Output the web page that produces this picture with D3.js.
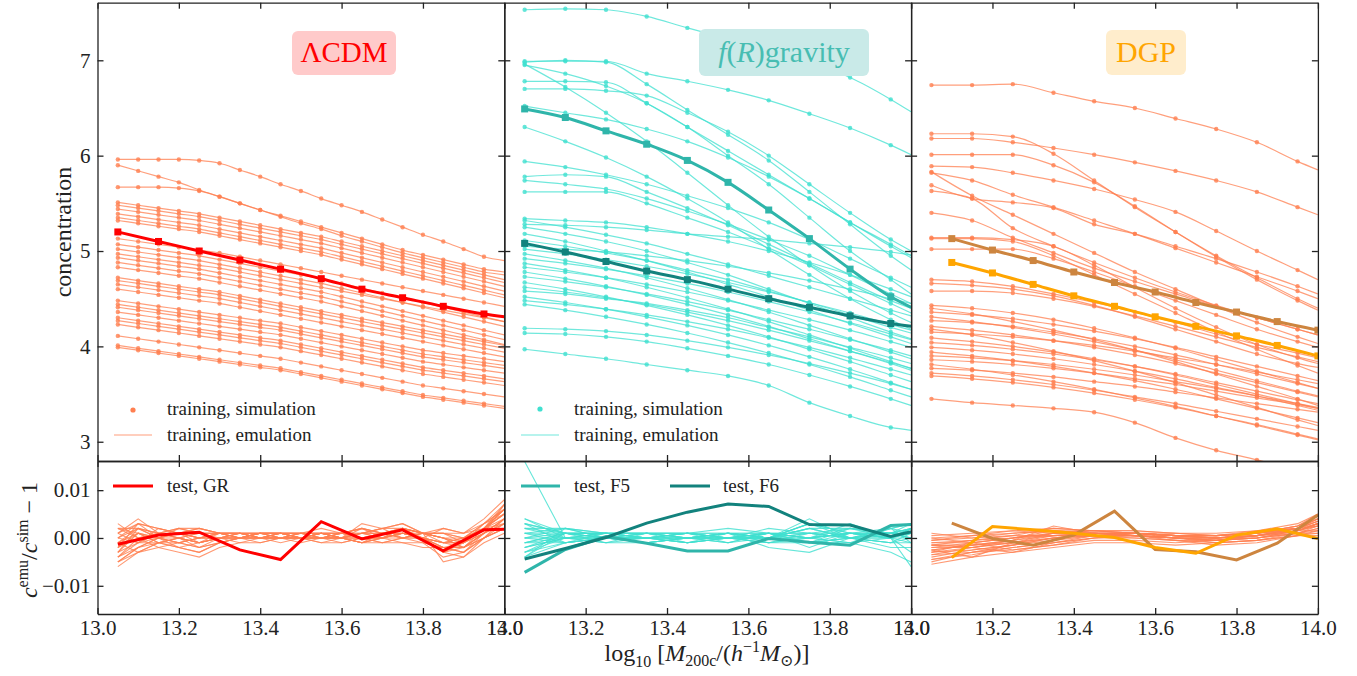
<!DOCTYPE html>
<html>
<head>
<meta charset="utf-8">
<script src="https://cdn.jsdelivr.net/npm/d3@7"></script>
<style>
body { margin: 0; background: #fff; }
svg text { font-family: "Liberation Serif", "Times New Roman", "DejaVu Serif", serif; fill: #222; }
</style>
</head>
<body>
<svg id="fig" width="1357" height="676"></svg>
<script>
// mass grids (log10 M200c)
var xLcdm = [13.05,13.10,13.15,13.20,13.25,13.30,13.35,13.40,13.45,13.50,13.55,13.60,13.65,13.70,13.75,13.80,13.85,13.90,13.95,14.00];
var xGrid = [13.05,13.15,13.25,13.35,13.45,13.55,13.65,13.75,13.85,13.95,14.00];
var xDgpTest = [13.1,13.2,13.3,13.4,13.5,13.6,13.7,13.8,13.9,14.0];
var xTicks = [13.0,13.2,13.4,13.6,13.8,14.0];
var yTicksTop = [3,4,5,6,7];
var yTicksBot = [-0.01,0,0.01];

// LCDM training curves (19 simulation points + emulated end at 14.0)
var lcdmTrain = [
  [5.96,5.96,5.96,5.96,5.95,5.92,5.85,5.78,5.70,5.63,5.55,5.48,5.41,5.33,5.25,5.17,5.10,5.02,4.94,4.90],
  [5.90,5.84,5.78,5.72,5.64,5.57,5.50,5.43,5.36,5.29,5.23,5.16,5.10,5.04,4.98,4.93,4.88,4.83,4.78,4.75],
  [5.67,5.67,5.67,5.66,5.63,5.57,5.50,5.43,5.37,5.31,5.25,5.19,5.13,5.07,5.01,4.96,4.91,4.86,4.81,4.78],
  [5.51,5.48,5.45,5.42,5.39,5.35,5.31,5.27,5.23,5.19,5.15,5.10,5.05,5.00,4.95,4.90,4.85,4.80,4.75,4.70],
  [5.48,5.45,5.42,5.39,5.36,5.32,5.28,5.24,5.20,5.16,5.12,5.07,5.02,4.97,4.92,4.87,4.82,4.77,4.72,4.67],
  [5.44,5.41,5.38,5.35,5.32,5.28,5.24,5.20,5.16,5.12,5.08,5.03,4.98,4.93,4.88,4.83,4.78,4.73,4.68,4.63],
  [5.39,5.36,5.33,5.30,5.27,5.23,5.19,5.15,5.11,5.07,5.03,4.98,4.93,4.88,4.83,4.78,4.73,4.68,4.63,4.58],
  [5.35,5.32,5.29,5.26,5.23,5.19,5.15,5.11,5.07,5.03,4.99,4.94,4.89,4.84,4.79,4.74,4.69,4.64,4.59,4.54],
  [5.32,5.29,5.26,5.23,5.20,5.16,5.12,5.08,5.04,5.00,4.96,4.91,4.86,4.81,4.76,4.71,4.66,4.61,4.56,4.51],
  [5.13,5.10,5.07,5.04,5.01,4.98,4.94,4.90,4.86,4.82,4.78,4.74,4.70,4.66,4.62,4.58,4.54,4.50,4.46,4.42],
  [5.07,5.04,5.01,4.98,4.95,4.91,4.87,4.83,4.79,4.75,4.71,4.66,4.61,4.56,4.51,4.46,4.41,4.36,4.31,4.26],
  [5.02,4.99,4.96,4.93,4.90,4.86,4.82,4.78,4.74,4.70,4.66,4.61,4.56,4.51,4.46,4.41,4.36,4.31,4.26,4.21],
  [4.97,4.94,4.91,4.88,4.85,4.82,4.78,4.74,4.70,4.66,4.62,4.58,4.54,4.50,4.46,4.42,4.38,4.34,4.30,4.26],
  [4.93,4.90,4.87,4.84,4.81,4.77,4.73,4.69,4.65,4.61,4.57,4.52,4.47,4.42,4.37,4.32,4.27,4.22,4.17,4.12],
  [4.88,4.85,4.82,4.79,4.76,4.72,4.68,4.64,4.60,4.56,4.52,4.47,4.42,4.37,4.32,4.27,4.22,4.17,4.12,4.07],
  [4.83,4.80,4.77,4.74,4.71,4.67,4.63,4.59,4.55,4.51,4.47,4.42,4.37,4.32,4.27,4.22,4.17,4.12,4.07,4.02],
  [4.72,4.69,4.66,4.63,4.60,4.57,4.53,4.49,4.45,4.41,4.37,4.33,4.29,4.25,4.21,4.17,4.13,4.09,4.05,4.01],
  [4.69,4.66,4.63,4.60,4.57,4.54,4.50,4.46,4.42,4.38,4.34,4.30,4.26,4.22,4.18,4.14,4.10,4.06,4.02,3.98],
  [4.65,4.62,4.59,4.56,4.53,4.50,4.46,4.42,4.38,4.34,4.30,4.26,4.22,4.18,4.14,4.10,4.06,4.02,3.98,3.94],
  [4.60,4.57,4.54,4.51,4.48,4.45,4.41,4.37,4.33,4.29,4.25,4.21,4.17,4.13,4.09,4.05,4.01,3.97,3.93,3.89],
  [4.48,4.45,4.42,4.39,4.36,4.33,4.30,4.27,4.24,4.20,4.16,4.12,4.08,4.04,4.00,3.96,3.93,3.90,3.87,3.84],
  [4.44,4.41,4.38,4.35,4.32,4.29,4.26,4.23,4.20,4.16,4.12,4.08,4.04,4.00,3.96,3.92,3.89,3.86,3.83,3.80],
  [4.41,4.38,4.35,4.32,4.29,4.26,4.23,4.20,4.17,4.13,4.09,4.05,4.01,3.97,3.93,3.89,3.86,3.83,3.80,3.77],
  [4.36,4.33,4.30,4.27,4.24,4.21,4.18,4.15,4.12,4.08,4.04,4.00,3.96,3.92,3.88,3.84,3.81,3.78,3.75,3.72],
  [4.30,4.27,4.24,4.21,4.18,4.15,4.12,4.09,4.06,4.02,3.98,3.94,3.90,3.86,3.82,3.78,3.75,3.72,3.69,3.66],
  [4.27,4.24,4.21,4.18,4.15,4.12,4.09,4.06,4.03,3.99,3.95,3.91,3.87,3.83,3.79,3.75,3.72,3.69,3.66,3.63],
  [4.23,4.20,4.17,4.14,4.11,4.08,4.05,4.02,3.99,3.95,3.91,3.87,3.83,3.79,3.75,3.71,3.68,3.65,3.62,3.59],
  [4.11,4.08,4.05,4.02,3.99,3.96,3.93,3.90,3.87,3.83,3.79,3.75,3.71,3.67,3.63,3.59,3.56,3.53,3.50,3.47],
  [4.01,3.98,3.95,3.92,3.89,3.86,3.83,3.80,3.77,3.73,3.69,3.65,3.61,3.57,3.53,3.49,3.46,3.43,3.40,3.37],
  [3.99,3.96,3.93,3.90,3.87,3.84,3.81,3.78,3.75,3.71,3.67,3.63,3.59,3.55,3.51,3.47,3.44,3.41,3.38,3.35]
];

// f(R) training curves (10 simulation points + emulated end at 14.0)
var frTrain = [
  [7.53,7.54,7.53,7.46,7.34,7.23,7.11,6.97,6.82,6.59,6.46],
  [6.99,6.99,6.99,6.86,6.78,6.69,6.58,6.44,6.29,6.11,6.01],
  [6.98,7.00,6.98,6.75,6.48,6.22,5.95,5.62,5.28,4.95,4.80],
  [6.95,6.86,6.73,6.55,6.30,6.00,5.70,5.35,5.00,4.70,4.55],
  [6.96,6.72,6.45,6.15,5.82,5.48,5.15,4.85,4.58,4.35,4.25],
  [6.78,6.78,6.77,6.55,6.30,6.05,5.80,5.55,5.30,5.07,4.95],
  [6.70,6.70,6.68,6.63,6.45,6.25,6.00,5.70,5.40,5.12,5.00],
  [6.52,6.45,6.38,6.28,6.15,5.98,5.78,5.55,5.30,5.05,4.93],
  [6.30,6.15,5.98,5.78,5.55,5.30,5.02,4.75,4.50,4.28,4.18],
  [5.94,5.88,5.80,5.70,5.58,5.45,5.30,5.12,4.92,4.72,4.62],
  [5.78,5.80,5.78,5.62,5.45,5.27,5.07,4.87,4.67,4.48,4.40],
  [5.74,5.70,5.65,5.55,5.42,5.28,5.12,4.95,4.75,4.55,4.45],
  [5.62,5.62,5.62,5.50,5.35,5.20,5.03,4.85,4.65,4.45,4.35],
  [5.34,5.32,5.30,5.25,5.18,5.10,5.00,4.88,4.75,4.60,4.52],
  [5.32,5.25,5.17,5.08,4.97,4.86,4.74,4.62,4.50,4.38,4.32],
  [5.28,5.27,5.25,5.22,5.18,5.15,5.12,5.08,5.04,4.99,4.96],
  [5.25,5.18,5.10,5.00,4.88,4.75,4.60,4.45,4.30,4.15,4.08],
  [5.18,5.10,5.00,4.90,4.78,4.65,4.52,4.38,4.24,4.10,4.03],
  [5.11,5.05,4.98,4.90,4.80,4.70,4.58,4.46,4.33,4.20,4.14],
  [5.05,5.02,4.99,4.95,4.90,4.84,4.77,4.69,4.60,4.50,4.45],
  [5.02,4.97,4.91,4.84,4.76,4.67,4.57,4.46,4.35,4.23,4.17],
  [4.97,4.90,4.82,4.72,4.61,4.49,4.36,4.22,4.08,3.94,3.87],
  [4.92,4.87,4.81,4.74,4.66,4.57,4.47,4.36,4.25,4.13,4.07],
  [4.87,4.80,4.72,4.62,4.51,4.39,4.26,4.12,3.98,3.84,3.77],
  [4.83,4.78,4.72,4.65,4.57,4.48,4.38,4.28,4.17,4.05,3.99],
  [4.78,4.71,4.63,4.54,4.44,4.33,4.21,4.08,3.95,3.82,3.75],
  [4.73,4.68,4.62,4.55,4.47,4.38,4.28,4.18,4.07,3.96,3.90],
  [4.67,4.60,4.52,4.43,4.33,4.22,4.10,3.97,3.84,3.70,3.63],
  [4.62,4.57,4.51,4.44,4.36,4.27,4.17,4.06,3.95,3.83,3.77],
  [4.58,4.55,4.50,4.45,4.38,4.30,4.20,4.10,3.99,3.88,3.82],
  [4.52,4.46,4.39,4.31,4.22,4.12,4.01,3.89,3.76,3.62,3.55],
  [4.48,4.44,4.39,4.33,4.26,4.18,4.09,3.99,3.88,3.76,3.70],
  [4.44,4.38,4.31,4.23,4.14,4.04,3.93,3.81,3.68,3.54,3.47],
  [4.19,4.18,4.16,4.12,4.06,3.99,3.91,3.82,3.72,3.61,3.55],
  [4.14,4.13,4.10,4.05,3.98,3.90,3.81,3.70,3.58,3.45,3.38],
  [3.97,3.92,3.87,3.81,3.75,3.69,3.59,3.41,3.27,3.15,3.12]
];

// DGP training curves (10 simulation points + emulated end at 14.0)
var dgpTrain = [
  [6.74,6.74,6.75,6.66,6.57,6.50,6.39,6.28,6.14,5.94,5.85],
  [6.23,6.23,6.20,6.02,5.74,5.46,5.20,4.95,4.72,4.50,4.40],
  [6.18,6.18,6.14,6.08,6.01,5.93,5.84,5.74,5.62,5.46,5.38],
  [6.01,6.01,6.01,5.90,5.72,5.47,5.20,4.94,4.70,4.48,4.38],
  [5.89,5.88,5.82,5.74,5.65,5.54,5.41,5.21,5.00,4.80,4.70],
  [5.82,5.74,5.59,5.46,5.32,5.18,5.03,4.88,4.73,4.58,4.50],
  [5.83,5.58,5.38,5.18,4.98,4.78,4.60,4.42,4.25,4.10,4.03],
  [5.69,5.55,5.51,5.45,5.28,5.18,5.05,4.92,4.78,4.63,4.55],
  [5.63,5.55,5.24,5.05,4.88,4.72,4.57,4.43,4.30,4.18,4.12],
  [5.40,5.32,5.14,4.98,4.82,4.68,4.55,4.42,4.30,4.18,4.12],
  [5.14,5.14,5.12,5.05,4.85,4.62,4.40,4.20,4.02,3.88,3.82],
  [5.13,5.13,5.10,4.95,4.75,4.55,4.35,4.15,3.97,3.80,3.72],
  [5.02,5.02,5.02,4.92,4.78,4.63,4.48,4.33,4.18,4.05,3.99],
  [4.70,4.68,4.63,4.55,4.46,4.36,4.25,4.13,4.02,3.93,3.88],
  [4.66,4.64,4.60,4.53,4.43,4.31,4.18,4.05,3.92,3.82,3.78],
  [4.58,4.58,4.56,4.50,4.42,4.32,4.21,4.10,3.99,3.89,3.84],
  [4.43,4.40,4.35,4.28,4.19,4.09,3.98,3.86,3.74,3.62,3.56],
  [4.40,4.34,4.26,4.17,4.07,3.96,3.84,3.71,3.58,3.45,3.38],
  [4.36,4.33,4.29,4.23,4.16,4.08,3.99,3.89,3.79,3.69,3.64],
  [4.31,4.26,4.20,4.13,4.05,3.96,3.86,3.75,3.64,3.53,3.48],
  [4.27,4.25,4.21,4.15,4.08,4.00,3.91,3.81,3.71,3.61,3.56],
  [4.21,4.17,4.12,4.06,3.99,3.91,3.82,3.72,3.62,3.52,3.47],
  [4.18,4.12,4.04,3.95,3.85,3.74,3.62,3.49,3.36,3.23,3.17],
  [4.15,4.13,4.10,4.06,4.01,3.95,3.88,3.81,3.73,3.65,3.61],
  [4.09,4.05,4.00,3.94,3.87,3.79,3.70,3.60,3.50,3.40,3.35],
  [4.04,4.01,3.97,3.92,3.86,3.79,3.71,3.62,3.53,3.44,3.40],
  [3.99,3.96,3.92,3.87,3.81,3.74,3.66,3.57,3.48,3.38,3.33],
  [3.94,3.90,3.85,3.79,3.72,3.64,3.55,3.45,3.35,3.25,3.20],
  [3.90,3.88,3.85,3.81,3.76,3.70,3.63,3.56,3.48,3.40,3.36],
  [3.86,3.84,3.81,3.77,3.72,3.66,3.60,3.53,3.46,3.39,3.35],
  [3.81,3.76,3.70,3.63,3.55,3.46,3.37,3.27,3.17,3.07,3.02],
  [3.77,3.75,3.72,3.68,3.63,3.58,3.52,3.46,3.40,3.34,3.31],
  [3.72,3.69,3.65,3.60,3.54,3.47,3.40,3.32,3.24,3.16,3.12],
  [3.69,3.66,3.62,3.57,3.51,3.44,3.36,3.27,3.18,3.08,3.03],
  [3.45,3.41,3.38,3.35,3.31,3.20,3.04,2.91,2.81,2.70,2.65]
];

// test cosmologies (concentration)
var grTest = [5.20,5.10,5.00,4.905,4.81,4.71,4.60,4.51,4.42,4.34,4.31];
var f5Test = [6.49,6.40,6.26,6.12,5.95,5.72,5.43,5.13,4.81,4.52,4.41];
var f6Test = [5.08,4.99,4.89,4.79,4.70,4.60,4.50,4.41,4.32,4.24,4.21];
var dgpTestA = [5.13,5.01,4.90,4.78,4.67,4.57,4.46,4.36,4.26,4.17];
var dgpTestB = [4.88,4.77,4.65,4.53,4.42,4.31,4.21,4.11,4.01,3.90];

// relative emulation errors, in units of 1e-3
var lcdmRes = [
  [-6,-3,-1,-2,-3,-1,0,-1,0,0,1,0,-1,0,1,0,-2,-2,1,3],
  [-5,-2,0,1,0,1,1,0,1,1,0,0,1,1,2,0,-3,-1,2,5],
  [-4,0,1,2,1,0,0,1,0,-1,0,1,0,0,-1,-1,-4,-3,0,2],
  [-3,2,1,0,-1,1,1,0,0,1,1,0,2,1,1,0,-1,0,3,7],
  [-2,3,2,1,2,1,0,0,1,0,0,-1,0,1,2,1,2,1,4,8],
  [-1,1,0,-2,-3,-1,0,1,1,0,-1,0,1,2,0,-1,-2,-1,1,4],
  [0,2,1,1,-1,0,1,1,0,0,1,1,0,-1,0,1,0,-2,2,6],
  [1,3,0,-1,-2,0,1,0,1,1,0,0,3,2,3,1,1,-1,3,5],
  [2,1,-1,-1,0,1,0,0,-1,0,1,1,1,0,1,0,-3,-4,0,3],
  [3,0,-2,-3,-4,-2,-1,0,0,0,1,0,-1,-1,0,1,-5,-4,-1,1],
  [-3,-1,1,2,1,1,1,1,1,0,0,0,0,1,1,0,2,1,2,6],
  [-4,-2,-1,0,-2,-1,0,0,1,1,1,0,-1,0,2,1,-1,-1,1,4],
  [-2,0,0,1,0,0,-1,-1,0,1,2,1,0,-1,-1,-2,-2,-3,0,2],
  [1,4,1,0,1,1,1,1,0,0,0,1,2,0,2,1,0,-1,2,5],
  [-1,-3,-2,-1,-2,-1,0,0,0,0,-1,-1,0,0,1,0,-1,0,3,6],
  [0,-1,0,2,2,1,0,1,1,1,0,0,1,2,3,1,0,0,2,4],
  [-5,-2,0,-1,0,0,0,0,0,0,1,0,0,0,1,0,-2,-3,1,7],
  [2,0,1,0,-1,0,0,1,1,0,0,0,-1,1,0,1,1,0,2,3],
  [-4,-1,2,1,0,1,0,1,1,0,1,1,0,1,0,1,0,-2,1,4],
  [-2,1,-1,-2,-1,0,1,0,0,0,0,1,1,0,1,0,-1,-1,2,6],
  [-1,2,0,0,1,1,0,0,0,1,1,1,2,1,2,1,1,0,2,5],
  [1,-1,-1,0,-1,0,1,1,1,0,0,0,1,1,0,0,-2,-2,1,3],
  [-3,1,0,1,2,1,1,0,0,0,1,0,0,0,1,1,0,-1,2,7],
  [0,3,2,1,0,0,0,1,0,1,0,1,2,1,1,0,-3,-2,0,4],
  [-5,-3,-1,0,-1,0,0,1,1,1,1,0,-1,0,0,0,-1,-2,0,2],
  [2,2,0,-1,0,1,1,0,1,0,0,0,1,2,2,1,1,1,3,6]
];
var frRes = [
  [16,0,1,0,1,0,-1,0,1,0,-6],
  [-4,2,0,-1,0,1,0,3,1,0,2],
  [-3,1,1,0,-1,0,1,-1,0,1,0],
  [-2,0,-1,1,1,0,0,2,0,-1,1],
  [-1,-1,0,0,0,-1,1,0,2,1,3],
  [0,1,1,1,0,0,-1,1,0,2,-1],
  [1,1,0,0,1,1,0,4,0,0,2],
  [2,0,-1,0,0,0,1,-2,1,0,-3],
  [3,1,1,1,1,0,0,0,-1,2,1],
  [4,0,0,0,-1,0,2,1,0,-1,0],
  [-3,-1,1,1,0,1,0,0,1,0,2],
  [1,-1,0,1,1,2,1,0,3,0,1],
  [-1,1,-1,-1,0,1,-2,-3,0,1,0],
  [0,0,0,0,-1,0,0,-1,-1,-3,-5],
  [2,2,1,0,1,-1,0,2,2,1,2],
  [-2,0,0,1,0,0,1,0,-1,0,-1],
  [3,-1,0,-1,0,1,0,3,0,2,3],
  [-4,1,0,0,1,0,-1,-1,2,1,1],
  [0,2,0,1,0,0,1,1,0,-2,-2],
  [1,0,1,0,-1,1,0,-1,1,1,0],
  [-3,0,0,0,1,0,0,1,1,0,2],
  [2,1,0,-1,0,1,1,-1,0,1,1],
  [-1,0,1,1,-1,0,0,1,2,0,0],
  [3,1,0,0,0,1,-1,0,1,1,2],
  [-2,1,1,0,1,1,0,2,0,0,1],
  [0,-1,0,1,0,-1,1,0,1,2,3],
  [1,2,1,1,1,0,0,-1,0,1,1],
  [-4,-1,0,0,0,1,1,0,1,0,2],
  [4,1,1,0,0,0,1,1,0,-1,-1],
  [-1,1,0,-1,0,0,0,3,1,1,2]
];
var dgpRes = [
  [-5.5,-4,-3,-2,-1,-1,-1.5,-1,-0.5,0.5,1],
  [-5,-3,-2.5,-1.5,-0.5,-0.5,-1,-0.5,0,1,2],
  [-4.5,-3.5,-2,-1,0,0,-0.5,-0.5,0.5,1.5,3],
  [-4,-2.5,-1.5,-0.5,0.5,0.5,0,0,0.5,2,4],
  [-3.5,-3,-1.5,0,0.5,1,0.5,0.5,1,2.5,5],
  [-3,-2,-1,0.5,1,1,0.5,0,0.5,2,3.5],
  [-2.5,-1.5,-0.5,1,1.5,1.5,1,0.5,1,2.5,4.5],
  [-2,-1,0,1.5,1.5,1,1,0.5,1.5,3,5],
  [-1.5,-1.5,-0.5,2.5,1,1,0.5,0,0.5,1.5,3],
  [-1,-0.5,0.5,2,1.5,1.5,1,1,1.5,2,2.5],
  [-0.5,0,1,1.5,1,0.5,0,-0.5,0,1,2],
  [0,0.5,1.5,2,1.5,1,0.5,0.5,1,1.5,1.5],
  [0.5,1,1.5,1,1,0.5,0,0,0.5,1,1],
  [1,0,0.5,0.5,0.5,0,-0.5,-1,-0.5,0.5,0.5],
  [-2.5,-4,-1,0,1,0.5,0,-0.5,0,1.5,3],
  [-1.5,-2,-3,-1,0.5,1,0,-1,-0.5,1,2.5],
  [-3,-1,0,0.5,1,0.5,-0.5,-1.5,-1,0.5,1.5],
  [0,-1,-2.5,-1.5,0,1,0.5,0,0,1,1.5],
  [-4.5,-3,-2,-1,0,0.5,0,0,0.5,1.5,2.5],
  [-3,-2.5,-1.5,0,1,1,0.5,0,1,2,3.5],
  [-2,-2,-1,1,1,1,0.5,0.5,1,2,4],
  [-1,-1,0,1,1.5,1,0.5,0.5,1,2.5,4],
  [-3.5,-2,-0.5,0.5,1,1,0,-0.5,0,1.5,3],
  [-0.5,0.5,1,1.5,1,1,0.5,0,0.5,1.5,2.5],
  [-2.5,-1.5,-1,0,0.5,0.5,0,-0.5,0.5,2,3.5],
  [-1.5,-0.5,0,1,1,0.5,0,0,1,2,3]
];
var grRes = [-1.3,0.6,1.2,-2.5,-4.5,3.4,-0.2,1.7,-2.7,1.7,1.8];
var f5Res = [-7.2,-2.4,0.3,-1.1,-2.7,-2.7,-0.1,-0.9,-1.5,2.6,2.8];
var f6Res = [-4.4,-2.2,0.1,3.1,5.4,7.1,6.6,2.8,2.7,0.3,1.3];
var dgpResA = [3.1,-0.1,-1.5,0.6,5.6,-2.4,-2.9,-4.6,-1.1,4.8];
var dgpResB = [-4.1,2.4,1.7,1.0,0.1,-2.0,-3.2,0.6,1.9,-0.1];

// layout
var left0 = 97.5, pw = 406.8;
var topY = 2.7, midY = 461, botY = 614;
var axisCol = '#222';
var serif = '"Liberation Serif", "Times New Roman", "DejaVu Serif", serif';
var coral = '#ff7f50', turq = '#40e0d0';

var svg = d3.select('#fig');
var defs = svg.append('defs');

var yTop = d3.scaleLinear().domain([2.798, 7.604]).range([midY, topY]);
var yBot = d3.scaleLinear().domain([-0.0159, 0.0161]).range([botY, midY]);

var panels = [
  { train: lcdmTrain, xs: xLcdm, nSim: 19, col: coral, res: lcdmRes, xRes: xLcdm,
    tests: [{ v: grTest, xs: xGrid, n: 10, col: '#ff0000' }],
    resTests: [{ v: grRes, xs: xGrid, col: '#ff0000' }] },
  { train: frTrain, xs: xGrid, nSim: 10, col: turq, res: frRes, xRes: xGrid,
    tests: [{ v: f5Test, xs: xGrid, n: 10, col: '#2fb5aa' }, { v: f6Test, xs: xGrid, n: 10, col: '#12827d' }],
    resTests: [{ v: f5Res, xs: xGrid, col: '#2fb5aa' }, { v: f6Res, xs: xGrid, col: '#12827d' }] },
  { train: dgpTrain, xs: xGrid, nSim: 10, col: coral, res: dgpRes, xRes: xGrid,
    tests: [{ v: dgpTestA, xs: xDgpTest, n: 10, col: '#cd853f' }, { v: dgpTestB, xs: xDgpTest, n: 10, col: '#ffa500' }],
    resTests: [{ v: dgpResA, xs: xDgpTest, col: '#cd853f' }, { v: dgpResB, xs: xDgpTest, col: '#ffa500' }] }
];

panels.forEach(function(p, i) {
  var x0 = left0 + i * pw;
  var x = d3.scaleLinear().domain([13, 14]).range([x0, x0 + pw]);

  defs.append('clipPath').attr('id', 'ct' + i).append('rect')
    .attr('x', x0).attr('y', topY).attr('width', pw).attr('height', midY - topY);
  defs.append('clipPath').attr('id', 'cb' + i).append('rect')
    .attr('x', x0).attr('y', midY).attr('width', pw).attr('height', botY - midY);

  function lineTop(xs) {
    return d3.line().x(function(d, j) { return x(xs[j]); }).y(function(d) { return yTop(d); }).curve(d3.curveMonotoneX);
  }
  function lineBot(xs) {
    return d3.line().x(function(d, j) { return x(xs[j]); }).y(function(d) { return yBot(d / 1000); });
  }

  // top: training emulation lines + simulation dots
  var gT = svg.append('g').attr('clip-path', 'url(#ct' + i + ')');
  gT.selectAll('path.train').data(p.train).enter().append('path')
    .attr('d', lineTop(p.xs))
    .attr('fill', 'none').attr('stroke', p.col).attr('stroke-width', 1.2).attr('stroke-opacity', 0.75);
  p.train.forEach(function(c) {
    gT.append('g').selectAll('circle').data(c.slice(0, p.nSim)).enter().append('circle')
      .attr('cx', function(d, j) { return x(p.xs[j]); })
      .attr('cy', function(d) { return yTop(d); })
      .attr('r', 2.2).attr('fill', p.col).attr('fill-opacity', 0.8);
  });
  p.tests.forEach(function(t) {
    gT.append('path').attr('d', lineTop(t.xs)(t.v))
      .attr('fill', 'none').attr('stroke', t.col).attr('stroke-width', 3);
    gT.append('g').selectAll('rect').data(t.v.slice(0, t.n)).enter().append('rect')
      .attr('x', function(d, j) { return x(t.xs[j]) - 3.5; })
      .attr('y', function(d) { return yTop(d) - 3.5; })
      .attr('width', 7).attr('height', 7).attr('fill', t.col);
  });

  // bottom: residuals
  var gB = svg.append('g').attr('clip-path', 'url(#cb' + i + ')');
  gB.selectAll('path.res').data(p.res).enter().append('path')
    .attr('d', lineBot(p.xRes))
    .attr('fill', 'none').attr('stroke', p.col).attr('stroke-width', 1.1).attr('stroke-opacity', 0.8);
  p.resTests.forEach(function(t) {
    gB.append('path').attr('d', lineBot(t.xs)(t.v))
      .attr('fill', 'none').attr('stroke', t.col).attr('stroke-width', 3);
  });

  // axes, ticks inward on every side
  function styleAxis(g) {
    g.attr('font-family', serif).attr('font-size', 21);
    g.selectAll('path.domain').attr('stroke', axisCol).attr('stroke-width', 1.3);
    g.selectAll('.tick line').attr('stroke', axisCol).attr('stroke-width', 1.3);
    g.selectAll('text').attr('font-family', serif).attr('font-size', 21).attr('fill', '#222');
  }
  svg.append('g').attr('transform', 'translate(0,' + topY + ')')
    .call(d3.axisTop(x).tickValues(xTicks).tickSizeInner(-6).tickSizeOuter(0).tickFormat('')).call(styleAxis);
  svg.append('g').attr('transform', 'translate(0,' + midY + ')')
    .call(d3.axisBottom(x).tickValues(xTicks).tickSizeInner(-6).tickSizeOuter(0).tickFormat('')).call(styleAxis);
  svg.append('g').attr('transform', 'translate(0,' + midY + ')')
    .call(d3.axisTop(x).tickValues(xTicks).tickSizeInner(-6).tickSizeOuter(0).tickFormat('')).call(styleAxis);
  svg.append('g').attr('transform', 'translate(0,' + botY + ')')
    .call(d3.axisBottom(x).tickValues(xTicks).tickSizeInner(-6).tickSizeOuter(0).tickPadding(6).tickFormat(d3.format('.1f'))).call(styleAxis);

  var fmtTop = i === 0 ? d3.format('d') : '';
  var fmtBot = i === 0 ? d3.format('.2f') : '';
  svg.append('g').attr('transform', 'translate(' + x0 + ',0)')
    .call(d3.axisLeft(yTop).tickValues(yTicksTop).tickSizeInner(-6).tickSizeOuter(0).tickPadding(7).tickFormat(fmtTop)).call(styleAxis);
  svg.append('g').attr('transform', 'translate(' + (x0 + pw) + ',0)')
    .call(d3.axisRight(yTop).tickValues(yTicksTop).tickSizeInner(-6).tickSizeOuter(0).tickFormat('')).call(styleAxis);
  svg.append('g').attr('transform', 'translate(' + x0 + ',0)')
    .call(d3.axisLeft(yBot).tickValues(yTicksBot).tickSizeInner(-6).tickSizeOuter(0).tickPadding(7).tickFormat(fmtBot)).call(styleAxis);
  svg.append('g').attr('transform', 'translate(' + (x0 + pw) + ',0)')
    .call(d3.axisRight(yBot).tickValues(yTicksBot).tickSizeInner(-6).tickSizeOuter(0).tickFormat('')).call(styleAxis);
});

// model labels in rounded boxes
function labelBox(x, y, w, h, fill) {
  svg.append('rect').attr('x', x).attr('y', y).attr('width', w).attr('height', h)
    .attr('rx', 6).attr('fill', fill);
}
function addText(x, y, size) {
  return svg.append('text').attr('x', x).attr('y', y).attr('font-family', serif).attr('font-size', size);
}
labelBox(292, 31, 104, 44, '#ffcaca');
addText(344, 62, 29).attr('text-anchor', 'middle').style('fill', '#ff0000').text('ΛCDM');
labelBox(699, 29, 170, 47, '#c9eae8');
var fr = addText(784, 62, 30).attr('text-anchor', 'middle').style('fill', '#47bdb2');
fr.append('tspan').attr('font-style', 'italic').text('f');
fr.append('tspan').text('(');
fr.append('tspan').attr('font-style', 'italic').text('R');
fr.append('tspan').text(')gravity');
labelBox(1106, 30, 80, 45, '#ffedcc');
addText(1146, 62, 30).attr('text-anchor', 'middle').style('fill', '#ffa500').text('DGP');

// legends
function legendLine(x1, x2, y, col, w, op) {
  svg.append('line').attr('x1', x1).attr('x2', x2).attr('y1', y).attr('y2', y)
    .attr('stroke', col).attr('stroke-width', w).attr('stroke-opacity', op);
}
function legendText(x, y, s) {
  addText(x, y, 19).attr('dy', '0.32em').text(s);
}
svg.append('circle').attr('cx', 133).attr('cy', 410).attr('r', 2.6).attr('fill', coral);
legendText(167, 409, 'training, simulation');
legendLine(114, 152, 435, coral, 1.2, 0.75);
legendText(167, 435, 'training, emulation');
svg.append('circle').attr('cx', 540).attr('cy', 409).attr('r', 2.6).attr('fill', turq);
legendText(574, 409, 'training, simulation');
legendLine(521, 559, 435, turq, 1.2, 0.75);
legendText(574, 435, 'training, emulation');
legendLine(113, 153, 486, '#ff0000', 3, 1);
legendText(167, 486, 'test, GR');
legendLine(521, 560, 486, '#2fb5aa', 3, 1);
legendText(574, 486, 'test, F5');
legendLine(670, 710, 486, '#12827d', 3, 1);
legendText(723, 486, 'test, F6');

// axis titles
addText(0, 0, 24).attr('transform', 'translate(71,232) rotate(-90)')
  .attr('text-anchor', 'middle').text('concentration');

var yl = addText(0, 0, 24).attr('transform', 'translate(37,540) rotate(-90)')
  .attr('text-anchor', 'middle');
yl.append('tspan').attr('font-style', 'italic').text('c');
yl.append('tspan').attr('dy', -9).attr('font-size', 16).text('emu');
yl.append('tspan').attr('dy', 9).text('/');
yl.append('tspan').attr('font-style', 'italic').text('c');
yl.append('tspan').attr('dy', -9).attr('font-size', 16).text('sim');
yl.append('tspan').attr('dy', 9).text(' − 1');

var xl = addText(707, 661, 24).attr('text-anchor', 'middle');
xl.append('tspan').text('log');
xl.append('tspan').attr('dy', 6).attr('font-size', 16).text('10');
xl.append('tspan').attr('dy', -6).text(' [');
xl.append('tspan').attr('font-style', 'italic').text('M');
xl.append('tspan').attr('dy', 5).attr('font-size', 16).text('200c');
xl.append('tspan').attr('dy', -5).text('/(');
xl.append('tspan').attr('font-style', 'italic').text('h');
xl.append('tspan').attr('dy', -9).attr('font-size', 16).text('−1');
xl.append('tspan').attr('dy', 9).attr('font-style', 'italic').text('M');
xl.append('tspan').attr('dy', 5).attr('font-size', 16).text('⊙');
xl.append('tspan').attr('dy', -5).text(')]');
</script>
</body>
</html>
